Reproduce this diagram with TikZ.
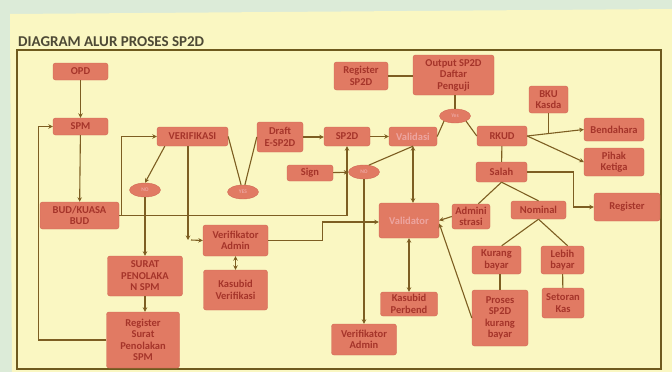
\documentclass[tikz,border=0pt]{standalone}
\usepackage{fontspec}
\setmainfont{Carlito}
\usetikzlibrary{shapes.geometric,arrows.meta,calc}
\definecolor{bgc}{HTML}{DCEBD8}
\definecolor{paper}{HTML}{FAF7C2}
\definecolor{framec}{HTML}{6E5A1E}
\definecolor{boxfill}{HTML}{E17A63}
\definecolor{boxdraw}{HTML}{D06854}
\definecolor{boxtext}{HTML}{A5342A}
\definecolor{lighttext}{HTML}{EDA5A0}
\definecolor{linec}{HTML}{7D5E22}
\definecolor{titlec}{HTML}{4D4935}
\tikzset{
  nbox/.style={draw=boxdraw, fill=boxfill, rounded corners=2.5pt, line width=0.4pt,
    font=\bfseries\fontsize{10.5}{11.5}\selectfont, text=boxtext, align=center, inner sep=1pt},
  oval/.style={ellipse, draw=boxdraw, fill=boxfill, minimum width=31pt, minimum height=14pt,
    inner sep=0pt, font=\bfseries\fontsize{5.5}{6}\selectfont, text=lighttext},
  conn/.style={draw=linec, line width=1.1pt},
  arr/.style={conn, -{Stealth[length=4.5pt,width=4.5pt]}},
  darr/.style={conn, {Stealth[length=4.5pt,width=4.5pt]}-{Stealth[length=4.5pt,width=4.5pt]}},
}
\begin{document}
\begin{tikzpicture}[x=1pt,y=-1pt]
\useasboundingbox (0,0) rectangle (672,372);
\fill[bgc] (0,0) rectangle (672,372);
\fill[paper] (10,14) -- (672,9) -- (672,372) -- (12,372) -- cycle;
\node[anchor=west, inner sep=0pt, font=\bfseries\fontsize{15}{16}\selectfont, text=titlec] (title) at (18,41.5) {DIAGRAM ALUR PROSES SP2D};
\draw[framec, line width=2pt] (17,50) rectangle (661,369);

% nodes
\node[nbox, minimum width=55pt, minimum height=17pt] (opd) at (80.5,71.5) {OPD};
\node[nbox, minimum width=55pt, minimum height=17pt] (spm) at (80.5,126.5) {SPM};
\node[nbox, minimum width=79pt, minimum height=27pt] (bud) at (79.5,215.5) {BUD/KUASA\\BUD};
\node[nbox, minimum width=71pt, minimum height=19pt] (verif) at (192.5,136.5) {VERIFIKASI};
\node[oval] (no1) at (145,190) {NO};
\node[oval] (yes1) at (243,192) {YES};
\node[nbox, minimum width=46pt, minimum height=30pt] (draft) at (280,137) {Draft\\E-SP2D};
\node[nbox, minimum width=46pt, minimum height=19pt] (sp2d) at (347,136.5) {SP2D};
\node[nbox, minimum width=46pt, minimum height=16pt] (sign) at (310,173) {Sign};
\node[oval] (no2) at (364,172) {NO};
\node[nbox, minimum width=48pt, minimum height=19pt, text=lighttext] (validasi) at (413,136.5) {Validasi};
\node[nbox, minimum width=54pt, minimum height=28pt] (regsp2d) at (361,76) {Register\\SP2D};
\node[nbox, minimum width=81pt, minimum height=40pt] (output) at (453.5,75) {Output SP2D\\Daftar\\Penguji};
\node[oval] (yes2) at (455,116) {Yes};
\node[nbox, minimum width=50pt, minimum height=20pt] (rkud) at (502,136) {RKUD};
\node[nbox, minimum width=39pt, minimum height=27pt] (bku) at (548.5,99.5) {BKU\\Kasda};
\node[nbox, minimum width=60pt, minimum height=23pt] (bendahara) at (614,129.5) {Bendahara};
\node[nbox, minimum width=60pt, minimum height=28pt] (pihak) at (614,162) {Pihak\\Ketiga};
\node[nbox, minimum width=51pt, minimum height=20pt] (salah) at (501.5,172) {Salah};
\node[nbox, minimum width=66pt, minimum height=28pt] (register) at (627,207) {Register};
\node[nbox, minimum width=38pt, minimum height=25pt] (admin) at (471,216.5) {Admini\\strasi};
\node[nbox, minimum width=55pt, minimum height=18pt] (nominal) at (538.5,210) {Nominal};
\node[nbox, minimum width=60pt, minimum height=35pt, text=lighttext] (validator) at (409,220.5) {Validator};
\node[nbox, minimum width=65pt, minimum height=31pt] (va1) at (235.5,240.5) {Verifikator\\Admin};
\node[nbox, minimum width=64pt, minimum height=40pt] (kasver) at (235.5,290) {Kasubid\\Verifikasi};
\node[nbox, minimum width=75pt, minimum height=40pt] (surat) at (145,276) {SURAT\\PENOLAKA\\N SPM};
\node[nbox, minimum width=73pt, minimum height=56pt] (regsurat) at (143,340) {Register\\Surat\\Penolakan\\SPM};
\node[nbox, minimum width=49pt, minimum height=28pt] (kurang) at (496.5,260) {Kurang\\bayar};
\node[nbox, minimum width=43pt, minimum height=28pt] (lebih) at (562.5,260) {Lebih\\bayar};
\node[nbox, minimum width=57pt, minimum height=24pt] (kasper) at (409,304) {Kasubid\\Perbend};
\node[nbox, minimum width=56pt, minimum height=56pt] (proses) at (500,318) {Proses\\SP2D\\kurang\\bayar};
\node[nbox, minimum width=42pt, minimum height=30pt] (setoran) at (563,303) {Setoran\\Kas};
\node[nbox, minimum width=65pt, minimum height=31pt] (va2) at (364,339.5) {Verifikator\\Admin};
\coordinate (c1) at (188,240);

% connectors
\draw[arr] (opd) -- (spm);
\draw[arr] (spm) -- (bud);
\draw[arr] (regsurat.west) -- ++(-68,0) |- (spm.west);
\draw[arr] (bud.east) -- ++(2,0) |- (verif.west);
\draw[arr] (bud.east) -| (sp2d.south);
\draw[arr] ($(verif.south west)+(8,0)$) -- (no1.north);
\draw[arr] (no1) -- (no1 |- surat.north);
\draw[arr] (surat) -- (surat |- regsurat.north);
\draw[conn] (verif.east) -- (yes1.105);
\draw[conn] (yes1.75) -- (draft.west);
\draw[arr] (verif.south -| c1) -- (c1);
\draw[arr] ($(c1)+(3,0)$) -- (va1.west);
\draw[darr] (va1) -- (kasver);
\draw[arr] (va1.east) -- ++(54,0) |- ($(validator.west)+(0,1.5)$);
\draw[arr] (draft.east) -- (draft.east -| sp2d.west);
\draw[arr] (sp2d) -- (validasi);
\draw[arr] (sign) -- (no2);
\draw[conn] (no2.55) -- (validasi.south);
\draw[arr] (no2) -- (va2);
\draw[darr] (validasi.south) -- (validasi.south |- validator.north);
\draw[conn] (regsp2d) -- (regsp2d -| output.west);
\draw[conn] (output.south -| yes2) -- (yes2.north);
\draw[conn] (validasi.east) -- (yes2.205);
\draw[conn] (yes2.-25) -- (rkud.west);
\draw[arr] (rkud.east) -- (bendahara.west);
\draw[conn] (bku.south) -- ++(0,19.5);
\draw[arr] (rkud.east) -- (pihak.west);
\draw[conn] (rkud) -- (salah);
\draw[arr] (salah.east) -- ++(46,0) |- (register.west);
\draw[conn] (salah.south) -- (admin.60);
\draw[conn] (salah.south) -- (nominal.north);
\draw[arr] (admin.west) -- (validator.east);
\draw[conn] (nominal.south) -- (kurang.70);
\draw[conn] (nominal.south) -- (lebih.70);
\draw[conn] (kurang.south -| proses) -- (proses.north);
\draw[conn] (lebih) -- (setoran);
\draw[arr] (proses.west) -- ($(validator.east)+(0,3)$);
\draw[darr] (validator) -- (kasper);
\end{tikzpicture}
\end{document}
